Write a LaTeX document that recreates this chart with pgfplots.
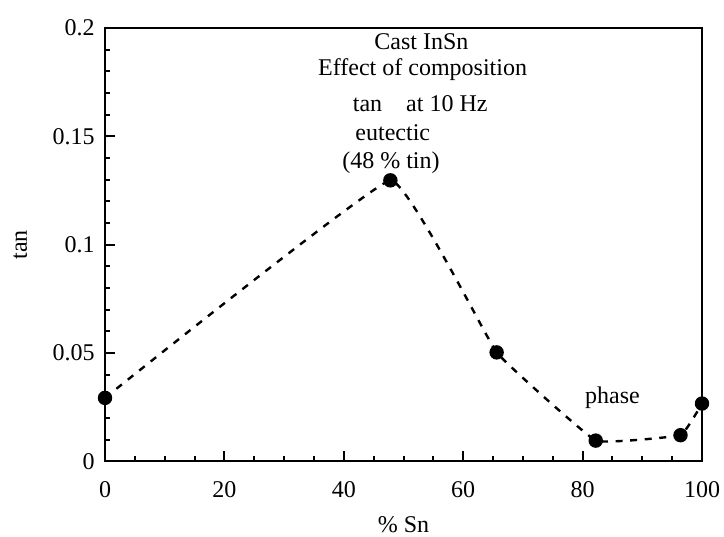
\documentclass[border=0pt]{standalone}
\usepackage{pgfplots}
\pgfplotsset{compat=1.18}
\usepackage{fontspec}
\setmainfont{Liberation Serif}

\begin{document}
\fontsize{12bp}{14.4bp}\selectfont
\begin{tikzpicture}
\begin{axis}[
    width=298.5bp, height=216.7bp,
    scale only axis,
    xmin=0, xmax=100,
    ymin=0, ymax=0.2,
    axis line style={line width=1bp},
    xtick={0,20,40,60,80,100},
    ytick={0,0.05,0.1,0.15,0.2},
    yticklabels={0,0.05,0.1,0.15,0.2},
    minor x tick num=3,
    minor y tick num=4,
    tick pos=left,
    tick align=inside,
    major tick length=5bp,
    minor tick length=2.5bp,
    every tick/.style={black, line width=1bp},
    /pgf/number format/assume math mode=true,
    xticklabel style={yshift=-6bp},
    yticklabel style={xshift=-1bp},
    xlabel={\% Sn},
    ylabel={tan},
    xlabel style={yshift=-1bp},
    ylabel style={yshift=4.5bp},
    clip=false,
]
\addplot [black, line width=1.2bp, dash pattern=on 3.5bp off 3.8bp,
          smooth, tension=0.15,
          mark=*, mark size=3bp, mark options={solid}] coordinates {
    (0, 0.0293)
    (47.8, 0.1297)
    (65.6, 0.0503)
    (82.2, 0.0096)
    (96.4, 0.0121)
    (100, 0.0267)
};
\node at (axis cs:53.0,0.1937) {Cast InSn};
\node at (axis cs:53.2,0.1808) {Effect of composition};
\node at (axis cs:52.8,0.1650) {tan\hspace{1em}at 10 Hz};
\node at (axis cs:48.2,0.1516) {eutectic};
\node at (axis cs:47.9,0.1379) {(48 \% tin)};
\node at (axis cs:85.0,0.0294) {phase};
\end{axis}
\pgfresetboundingbox
\path (current axis.south west) ++(-52.5bp,-37.5bp) coordinate (bl);
\path (current axis.north east) ++(11bp,14bp) coordinate (tr);
\path[use as bounding box] (bl) rectangle (tr);
\end{tikzpicture}
\end{document}
